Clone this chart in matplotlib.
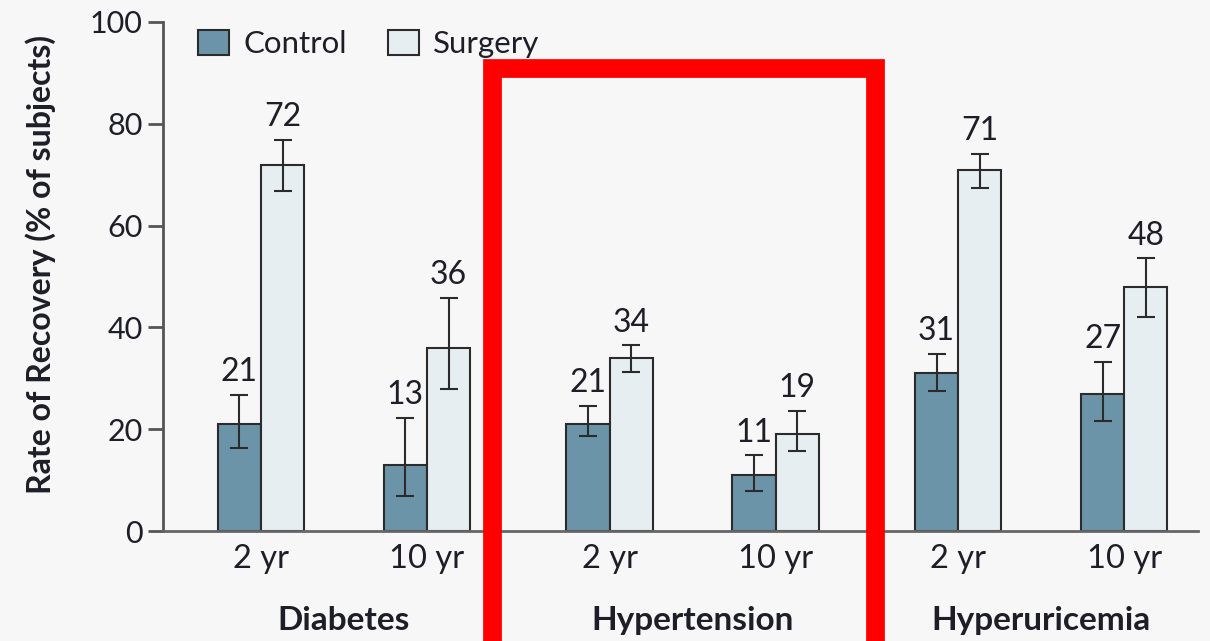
import numpy as np
import matplotlib
matplotlib.use("Agg")
import matplotlib.pyplot as plt
from matplotlib.patches import Rectangle

# data
groups = ["Diabetes", "Hypertension", "Hyperuricemia"]
periods = ["2 yr", "10 yr", "2 yr", "10 yr", "2 yr", "10 yr"]
control = [21, 13, 21, 11, 31, 27]
surgery = [72, 36, 34, 19, 71, 48]
control_lo = [16.3, 6.9, 18.7, 7.9, 27.5, 21.6]
control_hi = [26.7, 22.2, 24.6, 14.9, 34.8, 33.2]
surgery_lo = [66.8, 27.9, 31.2, 15.7, 67.4, 42.0]
surgery_hi = [76.8, 45.8, 36.5, 23.6, 74.1, 53.6]

FONT = ["Lato", "DejaVu Sans"]
plt.rcParams["font.family"] = FONT

BG = "#f7f7f7"
C_CTRL = "#6b94a8"
C_SURG = "#e6eef2"
EDGE = "#2b2b2b"
TXT = "#1e1e28"
AXC = "#555555"

x = np.array([0, 1, 2.1, 3.1, 4.2, 5.2])
w = 0.26

fig = plt.figure(figsize=(12.1, 6.41), dpi=100, facecolor=BG)
ax = fig.add_axes([0.1347, 0.1716, 0.8554, 0.7941], facecolor=BG)

c_err = [np.array(control) - np.array(control_lo), np.array(control_hi) - np.array(control)]
s_err = [np.array(surgery) - np.array(surgery_lo), np.array(surgery_hi) - np.array(surgery)]

ax.bar(x - w / 2, control, w, color=C_CTRL, edgecolor=EDGE, linewidth=1.5, label="Control", zorder=2)
ax.bar(x + w / 2, surgery, w, color=C_SURG, edgecolor=EDGE, linewidth=1.5, label="Surgery", zorder=2)
ax.errorbar(x - w / 2, control, yerr=c_err, fmt="none", ecolor=EDGE, elinewidth=1.5, capsize=6.5, capthick=1.5, zorder=3)
ax.errorbar(x + w / 2, surgery, yerr=s_err, fmt="none", ecolor=EDGE, elinewidth=1.5, capsize=6.5, capthick=1.5, zorder=3)

# value labels above the error bars
for xi, v, hi in zip(x - w / 2, control, control_hi):
    ax.text(xi, hi + 1.5, str(v), ha="center", va="bottom", fontsize=23, color=TXT)
for xi, v, hi in zip(x + w / 2, surgery, surgery_hi):
    ax.text(xi, hi + 1.5, str(v), ha="center", va="bottom", fontsize=23, color=TXT)

ax.set_xlim(-0.59, 5.645)
ax.set_ylim(0, 100)
ax.set_yticks([0, 20, 40, 60, 80, 100])
ax.set_xticks(x)
ax.set_xticklabels(periods)
ax.tick_params(axis="x", length=0, pad=9, labelsize=23.5, labelcolor=TXT)
ax.tick_params(axis="y", length=11, width=2, color=AXC, pad=3.5, labelsize=22, labelcolor=TXT)

for s in ["top", "right"]:
    ax.spines[s].set_visible(False)
ax.spines["left"].set_color(AXC)
ax.spines["left"].set_linewidth(2)
ax.spines["bottom"].set_color("#666666")
ax.spines["bottom"].set_linewidth(2)

ax.set_ylabel("Rate of Recovery (% of subjects)", fontsize=23, fontweight="bold", color=TXT)
ax.yaxis.set_label_coords(-0.103, 0.523)

# group names under each pair of periods
for i, g in enumerate(groups):
    gx = (x[2 * i] + x[2 * i + 1]) / 2
    ax.text(gx, -17.5, g, ha="center", va="center", fontsize=24, fontweight="bold", color=TXT)

leg = ax.legend(loc="upper left", bbox_to_anchor=(0.034, 0.985), ncol=2, frameon=False, fontsize=22.5,
                handlelength=1.0, handleheight=0.88, columnspacing=1.3, handletextpad=0.45,
                borderpad=0, borderaxespad=0)
for t in leg.get_texts():
    t.set_color(TXT)

# red highlight box around Hypertension
fig.add_artist(Rectangle((0.4070, -0.2), 0.3161, 1.094, transform=fig.transFigure,
                         fill=False, edgecolor="#ff0000", linewidth=13.5, zorder=10))

fig.savefig("out.png", dpi=100, facecolor=BG)
